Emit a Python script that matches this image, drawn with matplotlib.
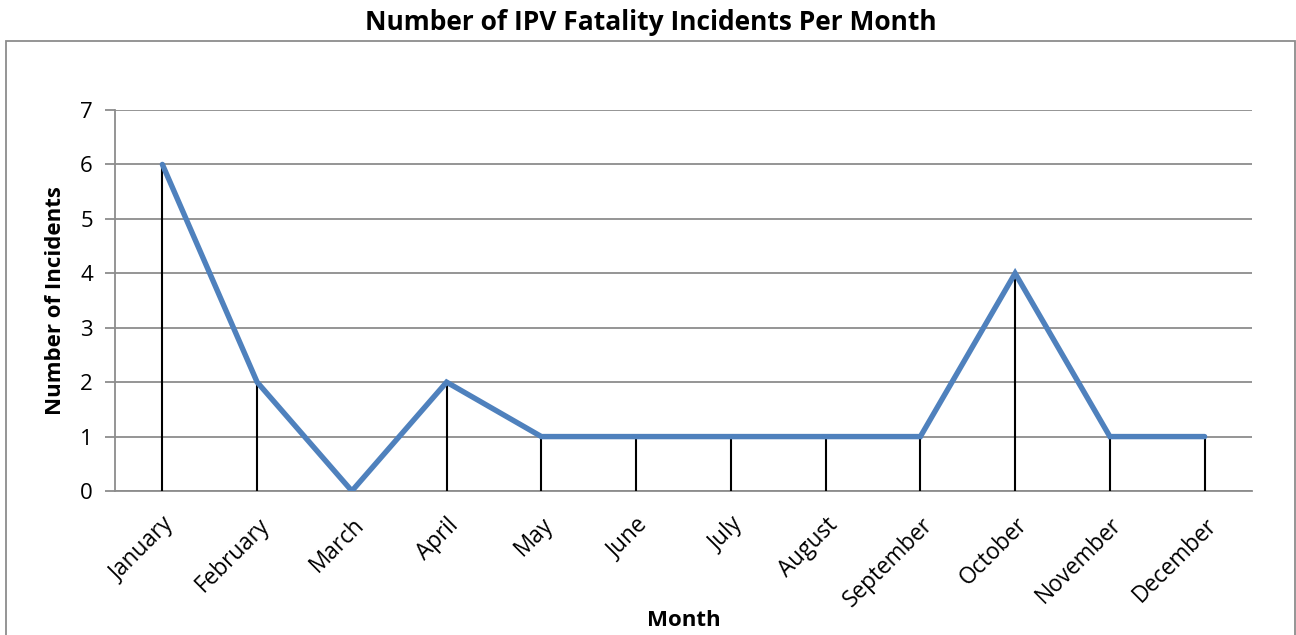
import matplotlib
matplotlib.use("Agg")
import matplotlib.pyplot as plt
from matplotlib.patches import Rectangle

months = ["January", "February", "March", "April", "May", "June", "July",
          "August", "September", "October", "November", "December"]
incidents = [6, 2, 0, 2, 1, 1, 1, 1, 1, 4, 1, 1]
yticks = [0, 1, 2, 3, 4, 5, 6, 7]

plt.rcParams['font.family'] = ['Open Sans', 'DejaVu Sans']

W, H = 1296, 635
fig = plt.figure(figsize=(W / 100, H / 100), dpi=100)
ax = fig.add_axes([115 / W, (H - 491) / H, (1252 - 115) / W, (491 - 110) / H])

# outer chart border
fig.patches.append(Rectangle((6 / W, -0.01), (1295 - 6) / W, (H - 41) / H + 0.01,
                             transform=fig.transFigure, fill=False,
                             edgecolor='#8c8c8c', linewidth=1.3, zorder=0))

x = list(range(len(months)))
ax.vlines(x, 0, incidents, colors='black', linewidth=1.5, zorder=3)
ax.plot(x, incidents, color='#4F81BD', linewidth=3.9, solid_capstyle='round',
        solid_joinstyle='miter', zorder=4)

ax.set_xlim(-0.5, len(months) - 0.5)
ax.set_ylim(0, 7)
ax.set_yticks(yticks)
ax.set_xticks(x)
ax.set_xticklabels(months, rotation=45, ha='right', va='top',
                   rotation_mode='anchor', fontsize=16.3)
ax.tick_params(axis='x', length=0, pad=16)
ax.tick_params(axis='y', length=7, width=1.3, color='#8c8c8c', labelsize=16, pad=9)
ax.yaxis.grid(True, color='#8c8c8c', linewidth=1.3)
ax.set_axisbelow(True)
for s in ['top', 'right']:
    ax.spines[s].set_visible(False)
for s in ['left', 'bottom']:
    ax.spines[s].set_color('#8c8c8c')
    ax.spines[s].set_linewidth(1.3)

ax.set_ylabel("Number of Incidents", fontsize=16, fontweight='bold', labelpad=10)
fig.text(684 / W, 1 - 620 / H, "Month", fontsize=16, fontweight='bold',
         ha='center', va='center')
fig.text(651 / W, 1 - 22 / H, "Number of IPV Fatality Incidents Per Month",
         fontsize=19, fontweight='bold', ha='center', va='center')

fig.savefig("out.png", dpi=100)
